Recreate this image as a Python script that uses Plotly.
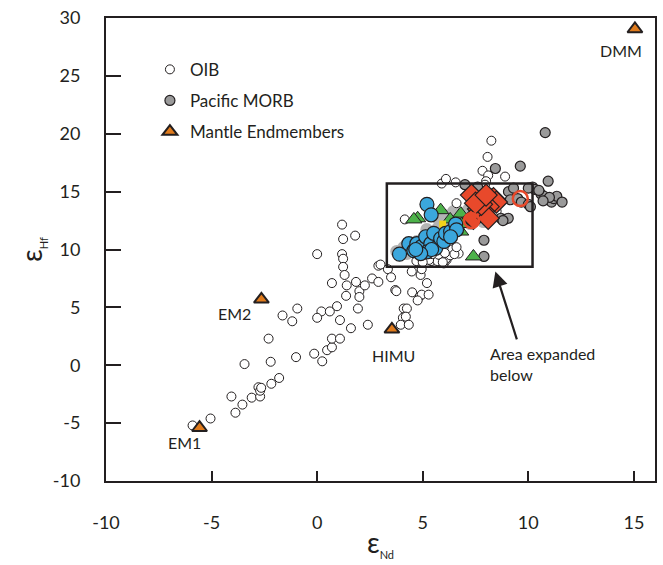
import plotly.graph_objects as go

# Ocean island basalts (open circles)
oib_nd = [-5.9, -5.05, -3.87, -3.54, -4.06, -3.1, -2.7, -2.78, -2.7, -2.65, -2.17, -1.8, -3.44, -2.2,
          -2.3, -1.64, -0.94, -1.18, 0.2, 0.0, 0.6, 0.94, 1.93, 1.08, 1.6, 2.4, -1.0, -0.14, 0.24, 0.47,
          0.7, 0.7, 1.08,
          1.18, 1.23, 1.8, 0.0, 1.18, 1.23, 1.23, 0.7, 1.3, 1.84, 1.4, 1.37, 2.0, 2.0, 2.26, 2.6, 2.9,
          2.9, 3.35, 3.5, 3.7,
          3.0, 4.48, 4.9, 4.95, 5.2, 3.75, 4.5, 4.86, 4.95, 4.76, 5.28, 4.1, 4.25, 4.06, 4.2, 3.96, 4.34,
          5.4, 6.0, 6.13, 6.7,
          8.25, 8.07, 7.83, 8.9, 8.1, 8.0, 7.95, 5.9, 6.1, 6.56, 4.15, 6.6, 8.5, 8.7,
          5.5, 5.7, 5.9, 6.1, 6.3, 5.6, 5.8, 6.0, 6.2, 6.4, 5.3, 6.5, 5.75, 6.05, 5.45, 6.6, 5.95, 4.7, 5.0]
oib_hf = [-5.2, -4.6, -4.1, -3.4, -2.7, -2.8, -2.7, -1.9, -2.2, -1.95, -1.6, -1.1, 0.1, 0.3,
          2.3, 4.3, 4.9, 3.8, 4.65, 4.1, 4.65, 5.1, 4.9, 3.9, 3.2, 3.5, 0.7, 1.0, 0.34, 1.3,
          1.55, 2.3, 2.3,
          12.15, 10.9, 11.2, 9.6, 9.6, 9.2, 8.5, 7.1, 7.8, 7.2, 6.9, 6.0, 6.4, 5.9, 6.9, 7.5, 8.6,
          7.2, 8.3, 7.6, 6.5,
          8.7, 8.1, 7.8, 8.3, 7.1, 6.4, 6.3, 5.95, 6.1, 5.6, 6.1, 4.9, 4.9, 4.1, 4.2, 3.5, 3.5,
          9.0, 8.8, 9.1, 9.65,
          19.4, 18.0, 16.8, 16.3, 16.4, 15.9, 15.6, 15.7, 16.1, 15.8, 12.6, 14.0, 13.3, 14.1,
          9.3, 9.0, 9.4, 9.2, 9.5, 9.8, 10.2, 9.9, 10.3, 10.0, 9.1, 9.6, 9.55, 9.7, 9.6, 10.2, 8.9, 9.0, 8.9]

# Pacific MORB (grey circles)
morb_nd = [10.8, 9.62, 8.44, 10.94, 10.2, 10.3, 9.06, 9.15, 9.5, 9.67, 10.0, 10.1, 10.6, 10.75, 10.9,
           11.1, 11.2, 11.35, 11.6, 8.7, 8.9, 9.05, 8.8, 7.9, 7.9, 7.2, 7.6, 8.1, 9.3, 10.5, 10.0,
           11.0, 10.7, 7.0, 7.6]
morb_hf = [20.1, 17.2, 17.0, 15.9, 15.4, 15.2, 15.0, 14.3, 14.4, 14.1, 13.9, 13.7, 14.8, 14.6, 14.3,
           14.1, 14.4, 14.6, 14.1, 12.7, 12.6, 12.7, 12.5, 10.8, 9.4, 14.8, 15.0, 14.9, 15.3, 15.1, 15.3,
           14.5, 14.2, 15.6, 15.4]

# Dense MORB field (light grey band)
band_nd = [3.77, 4.10, 4.43, 4.72, 5.05, 5.38, 5.66, 5.99, 6.32, 6.60, 6.93, 7.17, 7.41, 6.79, 6.13,
           5.52, 4.81, 5.75, 6.46, 7.08, 7.55, 7.74, 4.25, 5.19, 6.04, 6.70, 7.26, 7.88, 8.11]
band_hf = [9.83, 10.17, 10.43, 10.69, 11.03, 11.38, 11.72, 12.07, 12.41, 12.76, 13.10, 13.45, 13.71,
           12.24, 11.55, 10.86, 10.26, 12.59, 13.28, 12.76, 13.10, 13.45, 9.66, 11.72, 12.93, 11.72,
           12.24, 12.41, 12.93]

# Sample groups
blue_nd = [5.2, 5.4, 3.9, 4.34, 4.58, 4.72, 4.95, 5.14, 5.38, 5.52, 5.61, 5.85, 6.0, 6.08, 6.32, 6.56,
           6.6, 6.32, 5.2, 5.42, 4.9, 4.67]
blue_hf = [13.9, 13.0, 9.6, 10.5, 9.9, 10.5, 10.26, 11.1, 10.5, 11.4, 10.1, 10.95, 10.7, 11.4, 11.55,
           12.2, 11.7, 11.1, 9.8, 10.0, 9.65, 10.0]

red_nd = [7.31, 7.92, 8.35, 8.49, 8.1, 7.64, 7.88, 7.4, 8.1, 7.78, 7.5, 8.0]
red_hf = [14.7, 14.5, 14.4, 14.1, 13.7, 13.5, 13.3, 12.7, 12.7, 13.9, 14.0, 14.7]

ring_nd = [9.62, 7.31]
ring_hf = [14.4, 12.5]

green_nd = [4.76, 4.58, 5.85, 6.8, 6.84, 6.8, 7.4, 6.3]
green_hf = [12.7, 12.6, 13.4, 13.1, 12.2, 11.55, 9.4, 12.6]

yellow_nd = [5.94]
yellow_hf = [12.2]

# Mantle endmembers
em_names = ["EM1", "EM2", "HIMU", "DMM"]
em_nd = [-5.57, -2.64, 3.54, 15.05]
em_hf = [-5.4, 5.7, 3.1, 29.05]
em_label_shift = [(-15, -15), (-27, -14), (2, -26), (-14, -21)]

# Expanded-area box
box_nd = [3.3, 10.2]
box_hf = [8.5, 15.7]

# Axis ticks
x_ticks = [-10, -5, 0, 5, 10, 15]
y_ticks = [-10, -5, 0, 5, 10, 15, 20, 25, 30]

FONT = "Lato, 'Open Sans', sans-serif"
INK = "#231f20"

fig = go.Figure()

fig.add_trace(go.Scatter(x=band_nd, y=band_hf, mode="markers", showlegend=False,
                         marker=dict(size=13, color="#b4b4b4", line=dict(width=0))))
fig.add_trace(go.Scatter(x=oib_nd, y=oib_hf, mode="markers", name="OIB", legendgroup="oib",
                         marker=dict(size=9, color="white", line=dict(width=1, color=INK))))
fig.add_trace(go.Scatter(x=morb_nd, y=morb_hf, mode="markers", name="Pacific MORB", legendgroup="morb",
                         marker=dict(size=10, color="#9a9a9a", line=dict(width=1.2, color=INK))))
fig.add_trace(go.Scatter(x=green_nd, y=green_hf, mode="markers", showlegend=False,
                         marker=dict(size=14, symbol="triangle-up", color="#4db24a",
                                     line=dict(width=1, color=INK))))
fig.add_trace(go.Scatter(x=yellow_nd, y=yellow_hf, mode="markers", showlegend=False,
                         marker=dict(size=7, symbol="square", color="#f2d21b", line=dict(width=0))))
fig.add_trace(go.Scatter(x=blue_nd, y=blue_hf, mode="markers", showlegend=False,
                         marker=dict(size=14, color="#3ba7dd", line=dict(width=1.2, color=INK))))
fig.add_trace(go.Scatter(x=red_nd, y=red_hf, mode="markers", showlegend=False,
                         marker=dict(size=17, symbol="diamond", color="#e8492b",
                                     line=dict(width=1.2, color=INK))))
fig.add_trace(go.Scatter(x=ring_nd, y=ring_hf, mode="markers", showlegend=False,
                         marker=dict(size=15, symbol="circle-open", color="#e8492b",
                                     line=dict(width=2.5, color="#e8492b"))))
fig.add_trace(go.Scatter(x=em_nd, y=em_hf, mode="markers", name="Mantle Endmembers", legendgroup="em",
                         marker=dict(size=13, symbol="triangle-up", color="#e07b1c",
                                     line=dict(width=2, color=INK))))

fig.add_shape(type="rect", x0=box_nd[0], x1=box_nd[1], y0=box_hf[0], y1=box_hf[1],
              line=dict(color=INK, width=2.5))

for name, x, y, (dx, dy) in zip(em_names, em_nd, em_hf, em_label_shift):
    fig.add_annotation(x=x, y=y, text=name, showarrow=False, xshift=dx, yshift=dy,
                       font=dict(family=FONT, size=16, color=INK))

fig.add_annotation(x=8.44, y=8.1, ax=9.48, ay=2.1, axref="x", ayref="y", xref="x", yref="y",
                   text="", showarrow=True, arrowhead=2, arrowsize=1.4, arrowwidth=2.2,
                   arrowcolor=INK)
fig.add_annotation(x=8.1, y=0.1, text="Area expanded<br>below", showarrow=False,
                   xanchor="left", yanchor="middle", align="left",
                   font=dict(family=FONT, size=16, color=INK))

axis_common = dict(showgrid=False, zeroline=False, showline=True, linecolor=INK, linewidth=2,
                   mirror=True, ticks="inside", tickcolor=INK, tickwidth=2,
                   tickfont=dict(family=FONT, size=18, color=INK))

fig.update_xaxes(range=[-10, 16], tickvals=x_ticks, ticktext=[str(v) for v in x_ticks],
                 ticklen=10, ticklabelstandoff=24,
                 title=dict(text="ε<sub><span style='font-size:11px'>Nd</span></sub>",
                            font=dict(family=FONT, size=28, color=INK), standoff=2),
                 **axis_common)
fig.update_yaxes(range=[-10, 30], tickvals=y_ticks, ticktext=[str(v) for v in y_ticks],
                 ticklen=15, ticklabelstandoff=20,
                 title=dict(text="ε<sub><span style='font-size:11px'>Hf</span></sub>",
                            font=dict(family=FONT, size=28, color=INK), standoff=2),
                 **axis_common)

fig.update_layout(
    width=663, height=565,
    margin=dict(l=106, r=6, t=17, b=84),
    paper_bgcolor="white", plot_bgcolor="white",
    showlegend=True,
    legend=dict(x=0.08, y=0.927, xanchor="left", yanchor="top", bgcolor="rgba(0,0,0,0)",
                font=dict(family=FONT, size=17, color=INK), itemsizing="trace",
                traceorder="grouped", tracegroupgap=6),
)

fig.write_html("out.html")
